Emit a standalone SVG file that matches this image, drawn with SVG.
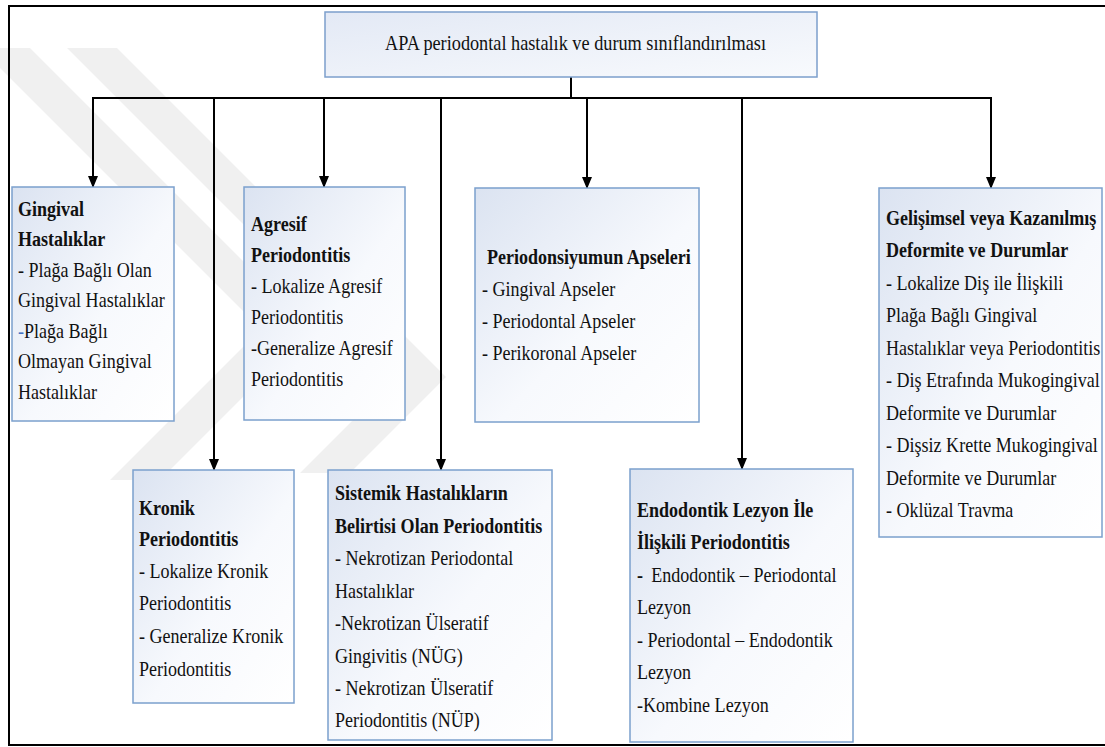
<svg xmlns="http://www.w3.org/2000/svg" width="1105" height="747" viewBox="0 0 1105 747" font-family="'Liberation Serif', 'Times New Roman', Tinos, 'DejaVu Serif', serif">
<style>
text{font-family:'Liberation Serif','Times New Roman',Tinos,'DejaVu Serif',serif;font-size:22px;fill:#111}
.b{font-weight:bold}
.box{fill:url(#g);stroke:#7ba0cd;stroke-width:1.5}
.ln{stroke:#000;stroke-width:2;fill:none}
.wm{fill:#000;fill-opacity:0.06}
</style>
<defs>
<linearGradient id="g" x1="0" y1="0" x2="1" y2="1">
<stop offset="0" stop-color="#dbe3f1"/>
<stop offset="0.55" stop-color="#f7f9fd"/>
<stop offset="1" stop-color="#ffffff"/>
</linearGradient>
<linearGradient id="gt" x1="0" y1="0" x2="1" y2="1">
<stop offset="0" stop-color="#e3e9f5"/>
<stop offset="1" stop-color="#f8fafd"/>
</linearGradient>
<marker id="ah" markerWidth="12" markerHeight="14" refX="11" refY="5" orient="auto" markerUnits="userSpaceOnUse" viewBox="0 0 12 10">
<path d="M0,0 L12,5 L0,10 Z" fill="#000"/>
</marker>
</defs>
<rect x="0" y="0" width="1105" height="747" fill="#fff"/>
<g id="watermark">
<polygon class="wm" points="-20,48 30,48 311,329 160,480 110,480 261,329"/>
<polygon class="wm" points="67,48 117,48 446,377 350,473 300,473 396,377"/>
</g>
<g id="frame" class="ln">
<line x1="8" y1="6" x2="1105" y2="6"/>
<line x1="9" y1="5" x2="9" y2="746"/>
<line x1="8" y1="745" x2="1105" y2="745"/>
</g>
<g id="connectors" class="ln">
<line x1="571" y1="77" x2="571" y2="98"/>
<polyline points="93,187 93,98 991,98 991,188" marker-end="url(#ah)"/>
<line x1="93" y1="98" x2="93" y2="187" marker-end="url(#ah)"/>
<line x1="214" y1="98" x2="214" y2="470" marker-end="url(#ah)"/>
<line x1="324" y1="98" x2="324" y2="187" marker-end="url(#ah)"/>
<line x1="441" y1="98" x2="441" y2="470" marker-end="url(#ah)"/>
<line x1="587" y1="98" x2="587" y2="188" marker-end="url(#ah)"/>
<line x1="742" y1="98" x2="742" y2="469" marker-end="url(#ah)"/>
</g>
<g id="root">
<rect x="325" y="12" width="492" height="65" fill="url(#gt)" stroke="#7c9fcc" stroke-width="1.5"/>
<g transform="translate(385,0) scale(0.83,1)"><text x="0" y="50">APA periodontal hastalık ve durum sınıflandırılması</text></g>
</g>
<g id="gingival">
<rect class="box" x="12" y="187" width="162" height="234"/>
<g transform="translate(18,0) scale(0.82,1)">
<text class="b" x="0" y="216">Gingival</text>
<text class="b" x="0" y="246.5">Hastalıklar</text>
<text x="0" y="277">- Plağa Bağlı Olan</text>
<text x="0" y="307.5">Gingival Hastalıklar</text>
<text x="0" y="338"><tspan fill="#4472c4">-</tspan>Plağa Bağlı</text>
<text x="0" y="368.5">Olmayan Gingival</text>
<text x="0" y="399">Hastalıklar</text>
</g>
</g>
<g id="agresif">
<rect class="box" x="244" y="187" width="161" height="233"/>
<g transform="translate(251,0) scale(0.82,1)">
<text class="b" x="0" y="231">Agresif</text>
<text class="b" x="0" y="262">Periodontitis</text>
<text x="0" y="293">- Lokalize Agresif</text>
<text x="0" y="324">Periodontitis</text>
<text x="0" y="355">-Generalize Agresif</text>
<text x="0" y="386">Periodontitis</text>
</g>
</g>
<g id="apseler">
<rect class="box" x="475" y="188" width="224" height="234"/>
<g transform="translate(482,0) scale(0.82,1)">
<text class="b" x="6" y="264">Periodonsiyumun Apseleri</text>
<text x="0" y="296">- Gingival Apseler</text>
<text x="0" y="328">- Periodontal Apseler</text>
<text x="0" y="360">- Perikoronal Apseler</text>
</g>
</g>
<g id="gelisimsel">
<rect class="box" x="879" y="188" width="223" height="349"/>
<g transform="translate(886,0) scale(0.82,1)">
<text class="b" x="0" y="225">Gelişimsel veya Kazanılmış</text>
<text class="b" x="0" y="257.5">Deformite ve Durumlar</text>
<text x="0" y="290">- Lokalize Diş ile İlişkili</text>
<text x="0" y="322.5">Plağa Bağlı Gingival</text>
<text x="0" y="355">Hastalıklar veya Periodontitis</text>
<text x="0" y="387.5">- Diş Etrafında Mukogingival</text>
<text x="0" y="420">Deformite ve Durumlar</text>
<text x="0" y="452.5">- Dişsiz Krette Mukogingival</text>
<text x="0" y="485">Deformite ve Durumlar</text>
<text x="0" y="517.5">- Oklüzal Travma</text>
</g>
</g>
<g id="kronik">
<rect class="box" x="133" y="470" width="161" height="233"/>
<g transform="translate(139,0) scale(0.82,1)">
<text class="b" x="0" y="515">Kronik</text>
<text class="b" x="0" y="546">Periodontitis</text>
<text x="0" y="578">- Lokalize Kronik</text>
<text x="0" y="610">Periodontitis</text>
<text x="0" y="643">- Generalize Kronik</text>
<text x="0" y="676">Periodontitis</text>
</g>
</g>
<g id="sistemik">
<rect class="box" x="328" y="470" width="224" height="270"/>
<g transform="translate(335,0) scale(0.82,1)">
<text class="b" x="0" y="500">Sistemik Hastalıkların</text>
<text class="b" x="0" y="533">Belirtisi Olan Periodontitis</text>
<text x="0" y="565">- Nekrotizan Periodontal</text>
<text x="0" y="598">Hastalıklar</text>
<text x="0" y="630">-Nekrotizan Ülseratif</text>
<text x="0" y="663">Gingivitis (NÜG)</text>
<text x="0" y="695">- Nekrotizan Ülseratif</text>
<text x="0" y="727">Periodontitis (NÜP)</text>
</g>
</g>
<g id="endodontik">
<rect class="box" x="630" y="469" width="223" height="273"/>
<g transform="translate(637,0) scale(0.82,1)">
<text class="b" x="0" y="517">Endodontik Lezyon İle</text>
<text class="b" x="0" y="549.5">İlişkili Periodontitis</text>
<text x="0" y="582"><tspan class="b">-</tspan><tspan dx="10">Endodontik – Periodontal</tspan></text>
<text x="0" y="614.5">Lezyon</text>
<text x="0" y="647">- Periodontal – Endodontik</text>
<text x="0" y="679.5">Lezyon</text>
<text x="0" y="712">-Kombine Lezyon</text>
</g>
</g>
</svg>
